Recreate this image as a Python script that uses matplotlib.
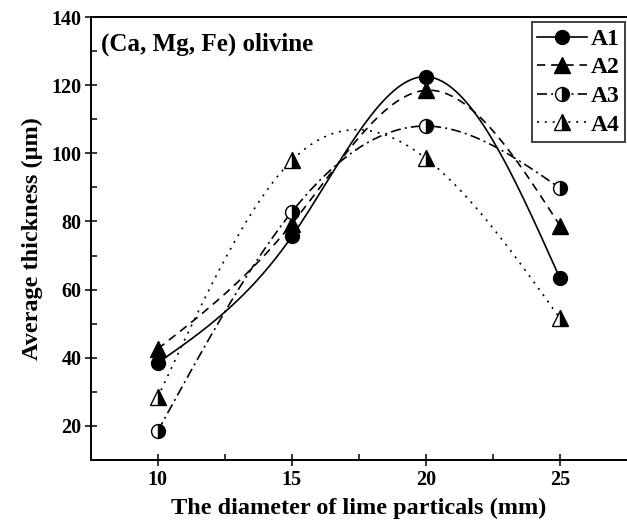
import numpy as np
import matplotlib
matplotlib.use("Agg")
import matplotlib.pyplot as plt

# data
diameter = [10, 15, 20, 25]
a1 = [38.5, 75.6, 122.5, 63.3]
a2 = [42.6, 79.3, 118.5, 78.8]
a3 = [18.5, 82.8, 108.0, 89.8]
a4 = [28.4, 97.9, 98.5, 51.6]
series_names = ["A1", "A2", "A3", "A4"]

plt.rcParams['font.family'] = ['Liberation Serif', 'DejaVu Serif']
plt.rcParams['font.weight'] = 'bold'
plt.rcParams['mathtext.default'] = 'regular'


def natural_spline(x, y, n=200):
    """natural cubic spline through the points, like Origin's spline line"""
    x = np.asarray(x, float)
    y = np.asarray(y, float)
    k = len(x)
    h = np.diff(x)
    A = np.zeros((k, k))
    b = np.zeros(k)
    A[0, 0] = 1
    A[-1, -1] = 1
    for i in range(1, k - 1):
        A[i, i - 1] = h[i - 1]
        A[i, i] = 2 * (h[i - 1] + h[i])
        A[i, i + 1] = h[i]
        b[i] = 6 * ((y[i + 1] - y[i]) / h[i] - (y[i] - y[i - 1]) / h[i - 1])
    M = np.linalg.solve(A, b)
    xs = np.linspace(x[0], x[-1], n)
    idx = np.clip(np.searchsorted(x, xs) - 1, 0, k - 2)
    x0, x1 = x[idx], x[idx + 1]
    hh = x1 - x0
    ys = (M[idx] * (x1 - xs) ** 3 / (6 * hh) + M[idx + 1] * (xs - x0) ** 3 / (6 * hh)
          + (y[idx] / hh - M[idx] * hh / 6) * (x1 - xs)
          + (y[idx + 1] / hh - M[idx + 1] * hh / 6) * (xs - x0))
    return xs, ys


fig = plt.figure(figsize=(6.27, 5.27), dpi=100)
ax = fig.add_axes([0.1447, 0.1271, 0.8553, 0.8406])

styles = [
    dict(ls='-', marker='o', fillstyle='full', ms=10),
    dict(ls=(0, (5, 3.5)), marker='^', fillstyle='full', ms=11),
    dict(ls=(0, (6, 2.5, 1.2, 2.5)), marker='o', fillstyle='right', ms=10),
    dict(ls=(0, (1.2, 3.5)), marker='^', fillstyle='right', ms=11),
]

for vals, name, st in zip([a1, a2, a3, a4], series_names, styles):
    xs, ys = natural_spline(diameter, vals)
    ax.plot(xs, ys, color='black', lw=1.2, ls=st['ls'])
    ax.plot(diameter, vals, ls='none', marker=st['marker'], ms=st['ms'],
            fillstyle=st['fillstyle'], color='black', mfc='black',
            mfcalt='white', mec='black', mew=1.0)
    # legend proxy
    ax.plot([], [], color='black', lw=1.2, ls=st['ls'], marker=st['marker'],
            ms=st['ms'], fillstyle=st['fillstyle'], mfc='black',
            mfcalt='white', mec='black', mew=1.0, label=name)

ax.set_xlim(7.5, 27.5)
ax.set_ylim(10, 140)
ax.set_xticks([10, 15, 20, 25])
ax.set_xticks([12.5, 17.5, 22.5], minor=True)
ax.set_yticks([20, 40, 60, 80, 100, 120, 140])
ax.set_yticks([30, 50, 70, 90, 110, 130], minor=True)
ax.tick_params(which='major', direction='inout', length=9, width=1.1,
               labelsize=14.5)
ax.tick_params(which='minor', direction='in', length=4.5, width=1.1)
ax.tick_params(axis='x', pad=3)
ax.tick_params(axis='y', pad=2)
for lab in ax.get_xticklabels() + ax.get_yticklabels():
    lab.set_fontweight('bold')

for sp in ['left', 'bottom', 'top']:
    ax.spines[sp].set_linewidth(1.4)
ax.spines['right'].set_visible(False)

ax.set_xlabel("The diameter of lime particals (mm)", fontsize=17.5,
              fontweight='bold', labelpad=5)
ax.set_ylabel("Average thickness (\u03bcm)", fontsize=17.5,
              fontweight='bold', labelpad=6)

ax.text(0.02, 0.965, "(Ca, Mg, Fe) olivine", transform=ax.transAxes,
        fontsize=18, fontweight='bold', va='top', ha='left')

leg = ax.legend(loc='upper right', bbox_to_anchor=(0.997, 0.988),
                prop={'size': 17, 'weight': 'bold'}, handlelength=2.1,
                handletextpad=0.15, borderpad=0.25, labelspacing=0.3,
                borderaxespad=0.0, frameon=True, fancybox=False)
leg.get_frame().set_edgecolor('black')
leg.get_frame().set_linewidth(1.3)

fig.savefig("out.png", dpi=100)
